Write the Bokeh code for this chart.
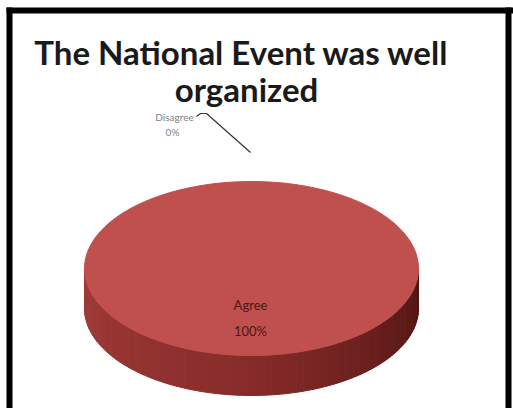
import numpy as np
from bokeh.plotting import figure
from bokeh.models import Range1d
from bokeh.core.properties import value
from bokeh.embed import file_html
from bokeh.resources import INLINE

# ---- data ----
categories = ["Agree", "Disagree"]
values = [100, 0]
title_lines = ["The National Event was well", "organized"]

W, H = 513, 408
p = figure(width=W, height=H, output_backend="svg", toolbar_location=None,
           x_range=Range1d(0, W), y_range=Range1d(H, 0), min_border=0,
           background_fill_color="white", border_fill_color="white")
p.axis.visible = False
p.grid.visible = False
p.outline_line_color = None

# frame bars
p.quad(left=[6, 6, 505], right=[12, 513, 511], top=[7, 7, 7], bottom=[408, 13, 408],
       fill_color="black", line_color=None)

# title
p.text(x=[241, 246], y=[51, 88], text=title_lines, text_font=value("Lato"),
       text_font_style="bold", text_font_size="33px", text_align="center",
       text_baseline="alphabetic", text_color="#1a1a1a")

# 3D pie geometry
cx, cy, a, b, depth = 251, 268, 167, 87, 40
total = float(sum(values))
fracs = [v / total for v in values]

# side (visible front half), shaded strips
n = 80
th = np.linspace(0, np.pi, n + 1)
xs, ys, cols = [], [], []
c_right = np.array([78, 20, 18])
c_mid = np.array([135, 44, 42])
c_left = np.array([162, 60, 57])
for i in range(n):
    t0, t1 = th[i], th[i + 1]
    x0, x1 = cx + a * np.cos(t0), cx + a * np.cos(t1)
    y0, y1 = cy + b * np.sin(t0), cy + b * np.sin(t1)
    xs.append([x0, x1, x1, x0])
    ys.append([y0, y1, y1 + depth, y0 + depth])
    f = (t0 + t1) / 2 / np.pi  # 0 right, 1 left
    if f < 0.5:
        c = c_right + (c_mid - c_right) * (f / 0.5)
    else:
        c = c_mid + (c_left - c_mid) * ((f - 0.5) / 0.5)
    cols.append("#%02x%02x%02x" % tuple(int(v) for v in c))
p.patches(xs=xs, ys=ys, fill_color=cols, line_color=cols, line_width=1)

# top face slices (start at 12 o'clock, clockwise)
start = -np.pi / 2
slice_colors = ["#C0504D", "#9BBB59"]
mids = []
for frac, col in zip(fracs, slice_colors):
    end = start + frac * 2 * np.pi
    mids.append((start + end) / 2)
    if frac > 0:
        t = np.linspace(start, end, 200)
        px = np.concatenate([[cx], cx + a * np.cos(t)])
        py = np.concatenate([[cy], cy + b * np.sin(t)])
        p.patch(px, py, fill_color=col, line_color=col, line_width=1)
    start = end

# Agree label (inside, at slice mid-angle)
ma = mids[0]
lx = cx + 0.55 * a * np.cos(ma)
ly = cy + 0.55 * b * np.sin(ma)
p.text(x=[lx - 1, lx - 1], y=[ly - 11, ly + 15],
       text=[categories[0], "%d%%" % values[0]], text_font=value("Lato"),
       text_font_size="13px", text_align="center", text_baseline="alphabetic",
       text_color="#4e1614")

# Disagree label (outside with leader)
md = mids[1]
ex = cx + a * 0.0 * np.cos(md)
ey = cy + b * np.sin(md)
p.line(x=[196, 200, 206, ex - 1], y=[116, 113, 113, ey - 29], line_color="#333333", line_width=1.2)
p.text(x=[174, 172], y=[116, 131], text=[categories[1], "%d%%" % values[1]],
       text_font=value("Lato"), text_font_size="10px", text_align="center",
       text_baseline="alphabetic", text_color="#7f7f7f")

open("out.html", "w").write(file_html(p, INLINE))
